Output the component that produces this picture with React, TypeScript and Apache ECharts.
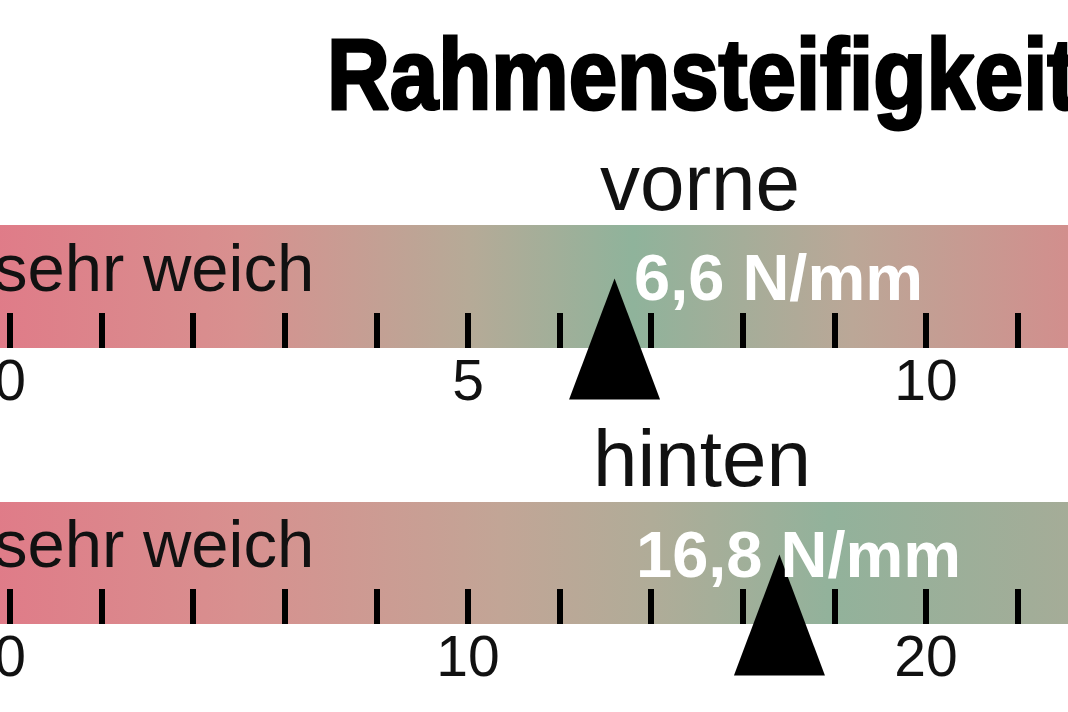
import { useEffect, useRef } from 'react';
import * as echarts from 'echarts';

const chartTitle = 'Rahmensteifigkeit';
const gaugeNames = ['vorne', 'hinten'];
const gaugeValues = [6.6, 16.8];
const valueTexts = ['6,6 N/mm', '16,8 N/mm'];
const scaleMin = [-1, -2];
const scaleMax = [12, 24];
const tickSteps = [1, 2];
const labelSteps = [5, 10];
const lowEndText = 'sehr weich';

// colour stops along each scale (value -> colour), red = too soft/stiff, green = good
const gradientStops: [number, string][][] = [
  [[-1, '#e27586'], [2.5, '#d8908f'], [5, '#b6aa97'], [6.8, '#8fb39b'], [9.2, '#bba797'], [12, '#d68a8b']],
  [[-2, '#e27586'], [5, '#d8908f'], [10.7, '#c2a596'], [14, '#b0ac98'], [17.9, '#92b29b'], [24, '#a8ab97']],
];

const gridTops = [225, 502];
const gridHeights = [123, 122];
const font = '"Liberation Sans", Arial, sans-serif';

export default function App() {
  const chartRef = useRef<HTMLDivElement>(null);

  useEffect(() => {
    if (!chartRef.current) return;
    const chart = echarts.init(chartRef.current, null, { renderer: 'svg' });

    // grids reach past the page edges so the scale starts a little left of 0
    const grid = gaugeNames.map((_, i) => ({
      left: -81.6,
      width: 1190.8,
      top: gridTops[i],
      height: gridHeights[i],
      outerBoundsMode: 'none',
      containLabel: false,
    }));

    const xAxis = gaugeNames.map((_, i) => ({
      type: 'value',
      gridIndex: i,
      min: scaleMin[i],
      max: scaleMax[i],
      interval: tickSteps[i],
      z: 5,
      splitLine: { show: false },
      axisLine: { show: false },
      axisTick: { show: true, inside: true, length: 35, lineStyle: { color: '#000', width: 6 } },
      axisLabel: {
        formatter: (v: number) => (v >= 0 && v % labelSteps[i] === 0 ? String(v) : ''),
        color: '#111',
        fontSize: 57,
        fontFamily: font,
        margin: 3,
      },
    }));

    const yAxis = gaugeNames.map((_, i) => ({ type: 'value', gridIndex: i, min: 0, max: 1, show: false }));

    const bands = gaugeNames.map((_, i) => {
      const span = scaleMax[i] - scaleMin[i];
      const stops = gradientStops[i].map(([v, color]) => ({ offset: (v - scaleMin[i]) / span, color }));
      return {
        type: 'custom',
        xAxisIndex: i,
        yAxisIndex: i,
        z: 1,
        silent: true,
        data: [[scaleMin[i], scaleMax[i]]],
        renderItem: (_p: any, api: any) => {
          const a = api.coord([api.value(0), 1]);
          const b = api.coord([api.value(1), 0]);
          return {
            type: 'rect',
            shape: { x: a[0], y: a[1], width: b[0] - a[0], height: b[1] - a[1] },
            style: { fill: new echarts.graphic.LinearGradient(0, 0, 1, 0, stops) },
          };
        },
      };
    });

    const markers = gaugeNames.map((_, i) => ({
      type: 'scatter',
      xAxisIndex: i,
      yAxisIndex: i,
      z: 10,
      clip: false,
      silent: true,
      data: [[gaugeValues[i], 0]],
      symbol: 'triangle',
      symbolSize: [91, 121],
      symbolOffset: [0, -9],
      itemStyle: { color: '#000', opacity: 1 },
    }));

    const text = (t: string, x: number, y: number, f: string, fill: string, align = 'left', extra = {}) => ({
      type: 'text',
      x,
      y,
      z: 100,
      silent: true,
      ...extra,
      style: {
        text: t,
        font: f,
        fill,
        align,
        textAlign: align,
        verticalAlign: 'middle',
        textVerticalAlign: 'middle',
        ...((extra as any).style || {}),
      },
    });

    const graphic = [
      text(chartTitle, 327, 74, `bold 100px ${font}`, '#000', 'left', {
        scaleX: 0.87,
        style: { stroke: '#000', lineWidth: 3 },
      }),
      text(gaugeNames[0], 700, 182, `80px ${font}`, '#111', 'center'),
      text(gaugeNames[1], 702, 458, `80px ${font}`, '#111', 'center'),
      text(lowEndText, -6, 267, `67px ${font}`, '#111'),
      text(lowEndText, -6, 543, `67px ${font}`, '#111'),
      text(valueTexts[0], 634, 277, `bold 65px ${font}`, '#fff'),
      text(valueTexts[1], 636, 554, `bold 65px ${font}`, '#fff'),
    ];

    chart.setOption({
      animation: false,
      grid,
      xAxis,
      yAxis,
      series: [...bands, ...markers],
      graphic,
    });

    return () => {
      chart.dispose();
    };
  }, []);

  return (
    <div
      ref={chartRef}
      style={{ position: 'fixed', left: 0, top: 0, width: 1068, height: 712, background: '#fff' }}
    />
  );
}
